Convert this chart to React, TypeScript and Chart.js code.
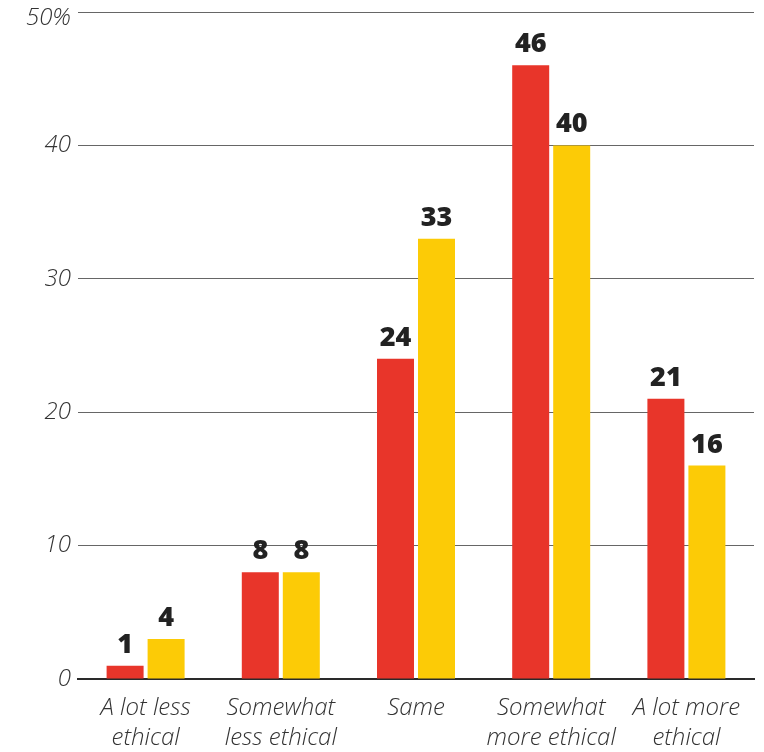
import React, { useEffect, useRef } from "react";
import { Chart, registerables } from "chart.js";

Chart.register(...registerables);

const categories: string[][] = [
  ["A lot less", "ethical"],
  ["Somewhat", "less ethical"],
  ["Same"],
  ["Somewhat", "more ethical"],
  ["A lot more", "ethical"],
];
const redValues = [1, 8, 24, 46, 21];
const yellowValues = [3, 8, 33, 40, 16];
const redLabels = ["1", "8", "24", "46", "21"];
const yellowLabels = ["4", "8", "33", "40", "16"];
const yTicks = [0, 10, 20, 30, 40, 50];

const RED = "#E8352A";
const YELLOW = "#FCCB06";
const TICK_FONT = "'Open Sans'";

const valueLabelPlugin = {
  id: "valueLabels",
  afterDatasetsDraw(chart: any) {
    const ctx = chart.ctx;
    const labelSets = [redLabels, yellowLabels];
    ctx.save();
    ctx.font = "800 27px 'Open Sans'";
    ctx.fillStyle = "#222222";
    ctx.textAlign = "center";
    ctx.textBaseline = "alphabetic";
    chart.data.datasets.forEach((_ds: any, di: number) => {
      const meta = chart.getDatasetMeta(di);
      meta.data.forEach((bar: any, i: number) => {
        ctx.fillText(labelSets[di][i], bar.x, bar.y - 13);
      });
    });
    ctx.restore();
  },
};

export default function App() {
  const ref = useRef<HTMLCanvasElement | null>(null);
  useEffect(() => {
    if (!ref.current) return;
    const chart = new Chart(ref.current, {
      type: "bar",
      data: {
        labels: categories,
        datasets: [
          {
            data: redValues,
            backgroundColor: RED,
            categoryPercentage: 82 / 135.2,
            barPercentage: 37 / 41,
          },
          {
            data: yellowValues,
            backgroundColor: YELLOW,
            categoryPercentage: 82 / 135.2,
            barPercentage: 37 / 41,
          },
        ],
      },
      options: {
        animation: false,
        responsive: true,
        maintainAspectRatio: false,
        layout: { padding: { top: 12, right: 10, left: 0, bottom: 0 } },
        plugins: {
          legend: { display: false },
          tooltip: { enabled: false },
        },
        scales: {
          x: {
            z: 1,
            grid: { display: false, drawTicks: false },
            border: { display: true, color: "#2a2a2a", width: 2 },
            ticks: {
              padding: 14,
              color: "#333333",
              font: { family: TICK_FONT, size: 24, style: "italic", weight: "300", lineHeight: 1.25 },
              maxRotation: 0,
              autoSkip: false,
            },
            afterFit: (scale: any) => {
              scale.height = 73;
              scale.paddingLeft = 0;
              scale.paddingRight = 0;
            },
          },
          y: {
            min: 0,
            max: 50,
            afterBuildTicks: (scale: any) => {
              scale.ticks = yTicks.map((v) => ({ value: v }));
            },
            grid: { color: "#666666", lineWidth: 1, drawTicks: false },
            border: { display: false },
            ticks: {
              padding: 7,
              color: "#333333",
              font: { family: TICK_FONT, size: 24, style: "italic", weight: "300", lineHeight: 0.55 },
              callback: (v: any) => (v === 50 ? ["", "50%"] : String(v)),
            },
            afterFit: (scale: any) => {
              scale.width = 78;
              scale.paddingTop = 0;
              scale.paddingBottom = 0;
            },
          },
        },
      },
      plugins: [valueLabelPlugin],
    });
    return () => chart.destroy();
  }, []);
  return (
    <div style={{ position: "fixed", left: 0, top: 0, width: 764, height: 752, background: "#fff" }}>
      <canvas ref={ref} />
    </div>
  );
}
